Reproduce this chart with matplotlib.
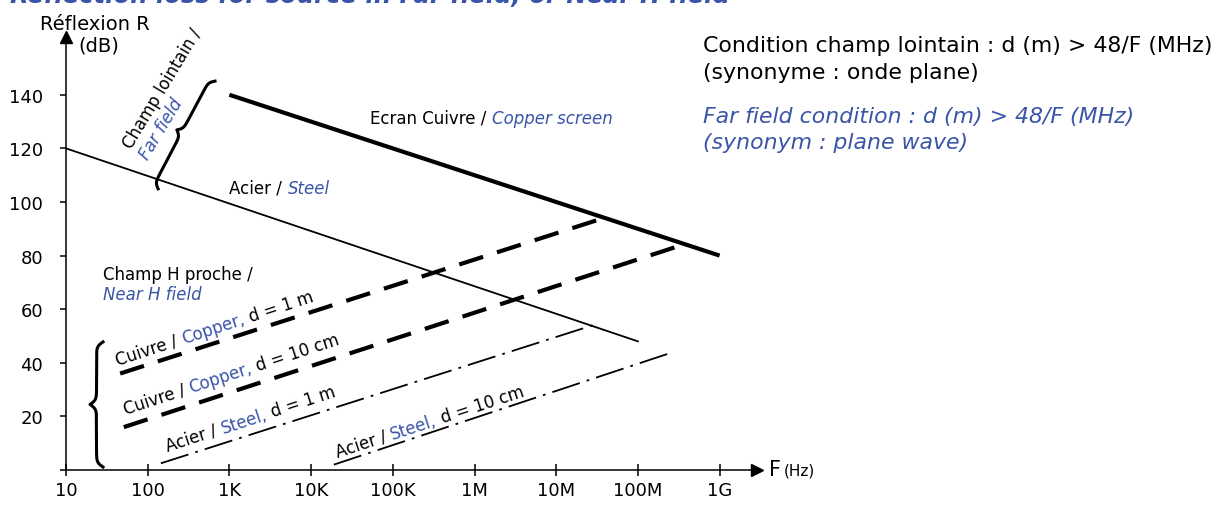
import numpy as np
import matplotlib
matplotlib.use("Agg")
import matplotlib.pyplot as plt
from matplotlib.transforms import IdentityTransform

BLUE = "#3a55a8"

# frequency ticks
freq_ticks = [1e1, 1e2, 1e3, 1e4, 1e5, 1e6, 1e7, 1e8, 1e9]
freq_labels = ["10", "100", "1K", "10K", "100K", "1M", "10M", "100M", "1G"]
r_ticks = [0, 20, 40, 60, 80, 100, 120, 140]
r_labels = ["", "20", "40", "60", "80", "100", "120", "140"]

# far field lines
f_copper_screen = [1e3, 1e9]
r_copper_screen = [140, 80]
f_steel = [10, 1e8]
r_steel = [120, 48]

# near H field lines
f_cu_1m = [46, 3.8e7]
r_cu_1m = [36, 94]
f_cu_10cm = [51, 3.5e8]
r_cu_10cm = [16, 84]
f_st_1m = [145, 2.8e7]
r_st_1m = [2.5, 54]
f_st_10cm = [1.9e4, 2.7e8]
r_st_10cm = [2, 44]

fig = plt.figure(figsize=(12.23, 5.06), dpi=100)
W, H = 1223, 506
ax = fig.add_axes([66 / W, 35 / H, (757 - 66) / W, (471 - 38) / H])
ax.set_xscale("log")
ax.set_xlim(10, 10 ** (1 + 691 / 81.7))
ax.set_ylim(0, 433 / 2.68)

for s in ["top", "right"]:
    ax.spines[s].set_visible(False)
for s in ["left", "bottom"]:
    ax.spines[s].set_linewidth(1.1)
ax.plot(1, 0, ">k", ms=9, transform=ax.transAxes, clip_on=False)
ax.plot(0, 1, "^k", ms=9, transform=ax.transAxes, clip_on=False)

ax.set_xticks(freq_ticks)
ax.set_xticklabels(freq_labels)
ax.minorticks_off()
ax.set_yticks(r_ticks)
ax.set_yticklabels(r_labels)
ax.tick_params(axis="x", direction="inout", length=8, width=1.1, labelsize=13, pad=4)
ax.tick_params(axis="y", direction="out", length=4.5, width=1.1, labelsize=13, pad=12)

# lines
ax.plot(f_copper_screen, r_copper_screen, color="k", lw=3, solid_capstyle="butt")
ax.plot(f_steel, r_steel, color="k", lw=1.3)
ax.plot(f_cu_1m, r_cu_1m, color="k", lw=3, dashes=(6, 3.5), solid_capstyle="butt")
ax.plot(f_cu_10cm, r_cu_10cm, color="k", lw=3, dashes=(6, 3.5))
ax.plot(f_st_1m, r_st_1m, color="k", lw=1.3, dashes=(16, 4, 1.5, 4))
ax.plot(f_st_10cm, r_st_10cm, color="k", lw=1.3, dashes=(16, 4, 1.5, 4))

renderer = fig.canvas.get_renderer()


def rich_text(x, y, parts, angle, size):
    # draws text pieces of different colours one after the other along a slope
    X, Y = ax.transData.transform((x, y))
    a = np.radians(angle)
    for s, color, style in parts:
        ax.text(X, Y, s, transform=IdentityTransform(), rotation=angle,
                rotation_mode="anchor", ha="left", va="baseline",
                color=color, style=style, fontsize=size)
        tmp = ax.text(0, 0, s, fontsize=size, style=style, transform=IdentityTransform())
        w = tmp.get_window_extent(renderer).width
        tmp.remove()
        X += w * np.cos(a)
        Y += w * np.sin(a)


def brace(p0, p1, width, lw=2.2):
    p0 = ax.transData.transform(p0)
    p1 = ax.transData.transform(p1)
    d = p1 - p0
    L = np.hypot(*d)
    u = d / L
    n = np.array([-u[1], u[0]])
    s = np.linspace(0, 1, 201)
    half = s[:101]
    beta = 55
    yh = 1 / (1 + np.exp(-beta * (half - half[0]))) + 1 / (1 + np.exp(-beta * (half - half[-1])))
    y = np.concatenate([yh, yh[-2::-1]])
    y = (y - y.min()) / (y.max() - y.min()) * width
    pts = p0 + np.outer(s * L, u) + np.outer(y, n)
    ax.plot(pts[:, 0], pts[:, 1], color="k", lw=lw, transform=IdentityTransform(), clip_on=False)


# slope angle of a 10 dB/decade line on screen
p_a = ax.transData.transform((1e2, 0))
p_b = ax.transData.transform((1e3, 10))
ang = np.degrees(np.arctan2(p_b[1] - p_a[1], p_b[0] - p_a[0]))

rich_text(43, 39.2, [("Cuivre / ", "k", "normal"), ("Copper,", BLUE, "normal"), (" d = 1 m", "k", "normal")], ang, 12)
rich_text(53, 20.9, [("Cuivre / ", "k", "normal"), ("Copper,", BLUE, "normal"), (" d = 10 cm", "k", "normal")], ang, 12)
rich_text(177, 7.1, [("Acier / ", "k", "normal"), ("Steel,", BLUE, "normal"), (" d = 1 m", "k", "normal")], ang, 12)
rich_text(2.1e4, 4.9, [("Acier / ", "k", "normal"), ("Steel,", BLUE, "normal"), (" d = 10 cm", "k", "normal")], ang, 12)

rich_text(5.25e4, 129.5, [("Ecran Cuivre / ", "k", "normal"), ("Copper screen", BLUE, "italic")], 0, 12)
rich_text(1e3, 103.5, [("Acier / ", "k", "normal"), ("Steel", BLUE, "italic")], 0, 12)

ax.text(28.4, 71.3, "Champ H proche /", fontsize=12, ha="left", va="baseline")
ax.text(28.4, 63.8, "Near H field", fontsize=12, ha="left", va="baseline", color=BLUE, style="italic")

ax.text(63, 119.8, "Champ lointain /", fontsize=12, rotation=59, rotation_mode="anchor",
        ha="left", va="baseline")
ax.text(100, 115.5, "Far field", fontsize=12, rotation=59, rotation_mode="anchor",
        ha="left", va="baseline", color=BLUE, style="italic")

brace((28.4, 1.1), (28.4, 47.8), 13)
brace((134, 104.9), (667, 145.1), 11)

# axis titles
fig.text(40 / W, 1 - 30 / H, "Réflexion R", fontsize=14, ha="left", va="baseline")
fig.text(78 / W, 1 - 52 / H, "(dB)", fontsize=14, ha="left", va="baseline")
fig.text(769 / W, 1 - 476 / H, "F", fontsize=15, ha="left", va="baseline")
fig.text(784 / W, 1 - 476 / H, "(Hz)", fontsize=11, ha="left", va="baseline")

# conditions
cond_size = 15.8
fig.text(703 / W, 1 - 52 / H, "Condition champ lointain : d (m) > 48/F (MHz)", fontsize=cond_size,
         ha="left", va="baseline")
fig.text(703 / W, 1 - 79 / H, "(synonyme : onde plane)", fontsize=cond_size, ha="left", va="baseline")
fig.text(703 / W, 1 - 123 / H, "Far field condition : d (m) > 48/F (MHz)", fontsize=cond_size,
         ha="left", va="baseline", color=BLUE, style="italic")
fig.text(703 / W, 1 - 149 / H, "(synonym : plane wave)", fontsize=cond_size, ha="left", va="baseline",
         color=BLUE, style="italic")

# title, cut by the top edge as in the original slide
fig.text(10 / W, 1 - 3 / H, "Reflection loss for source in Far field, or Near H field",
         fontsize=17.5, fontweight="bold", style="italic", color=BLUE, ha="left", va="baseline")

fig.savefig("out.png", dpi=100)
